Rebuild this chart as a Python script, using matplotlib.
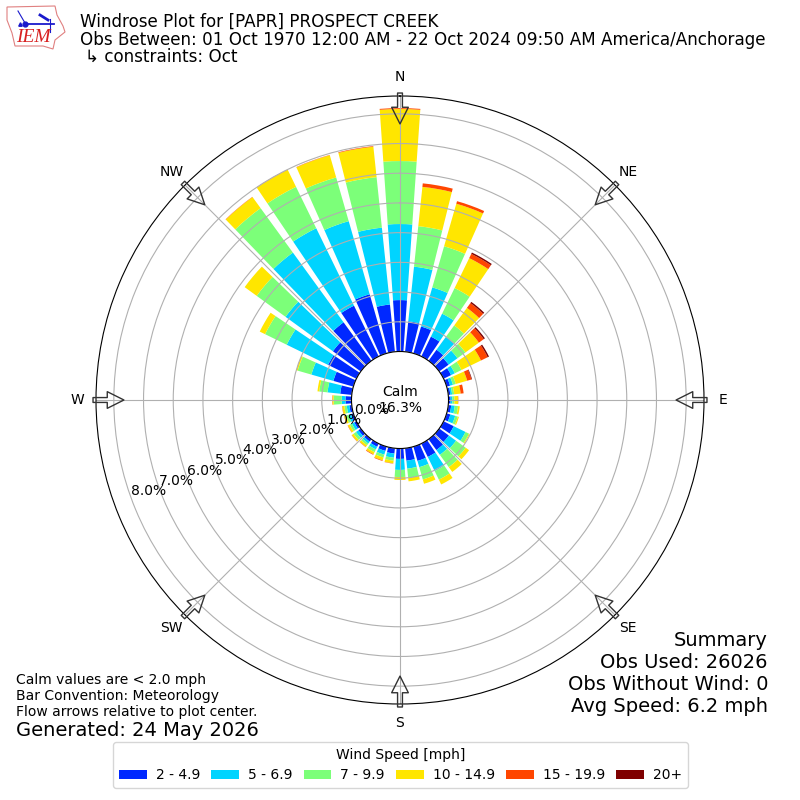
import numpy as np
import matplotlib
matplotlib.use("Agg")
import matplotlib.pyplot as plt
from matplotlib.patches import Polygon

# direction each bar points to, degrees from north
directions = np.arange(0, 360, 10)

speed_labels = ["2 - 4.9", "5 - 6.9", "7 - 9.9", "10 - 14.9", "15 - 19.9", "20+"]
speed_colors = ["#0028ff", "#00d4ff", "#7cff79", "#ffe600", "#ff4600", "#7f0000"]

# percent of obs per direction, one list per speed bin
bin_2_5 = [1.73, 1.03, 0.94, 0.74, 0.46, 0.39, 0.28, 0.12, 0.07, 0.07, 0.10, 0.13,
           0.38, 0.40, 0.45, 0.50, 0.50, 0.42, 0.35, 0.18, 0.15, 0.12, 0.10, 0.10,
           0.08, 0.08, 0.08, 0.20, 0.39, 0.70, 1.06, 1.16, 1.60, 1.90, 2.07, 1.60]
bin_5_7 = [2.56, 1.85, 1.37, 0.86, 0.54, 0.37, 0.14, 0.10, 0.06, 0.06, 0.12, 0.17,
           0.44, 0.30, 0.20, 0.53, 0.22, 0.27, 0.37, 0.14, 0.13, 0.10, 0.08, 0.10,
           0.09, 0.09, 0.09, 0.13, 0.43, 0.77, 1.55, 1.97, 2.90, 2.90, 2.56, 2.60]
bin_7_10 = [2.12, 1.37, 1.44, 0.96, 0.47, 0.33, 0.25, 0.10, 0.07, 0.07, 0.11, 0.09,
            0.13, 0.40, 0.51, 0.32, 0.43, 0.31, 0.24, 0.10, 0.10, 0.10, 0.07, 0.10,
            0.08, 0.08, 0.08, 0.27, 0.28, 0.48, 0.81, 1.20, 1.85, 1.55, 1.53, 1.71]
bin_10_15 = [1.75, 1.33, 1.49, 1.12, 0.73, 0.56, 0.73, 0.40, 0.22, 0.12, 0.06, 0.04,
             0.03, 0.14, 0.20, 0.18, 0.15, 0.12, 0.10, 0.09, 0.10, 0.08, 0.07, 0.07,
             0.07, 0.07, 0.07, 0.04, 0.06, 0.05, 0.20, 0.50, 0.46, 0.64, 0.78, 1.03]
bin_15_20 = [0.03, 0.12, 0.09, 0.16, 0.20, 0.20, 0.25, 0.15, 0.10, 0.01, 0, 0,
             0, 0, 0, 0, 0, 0, 0, 0.01, 0.02, 0.02, 0.01, 0.01,
             0.01, 0.01, 0.01, 0.01, 0, 0, 0, 0, 0.01, 0.01, 0.01, 0.02]
bin_20_up = [0, 0, 0, 0.05, 0.05, 0.05, 0.05, 0.02, 0, 0, 0, 0,
             0, 0, 0, 0, 0, 0, 0, 0, 0, 0, 0, 0,
             0, 0, 0, 0, 0, 0, 0, 0, 0, 0, 0, 0]
speed_bins = [bin_2_5, bin_5_7, bin_7_10, bin_10_15, bin_15_20, bin_20_up]

radial_ticks = [0, 1, 2, 3, 4, 5, 6, 7, 8]
compass_angles = [0, 45, 90, 135, 180, 225, 270, 315]
compass_labels = ["N", "NE", "E", "SE", "S", "SW", "W", "NW"]

fig = plt.figure(figsize=(8, 8), dpi=100)
ax = fig.add_axes([0.12, 0.12, 0.76, 0.76], projection="polar")
ax.set_theta_zero_location("N")
ax.set_theta_direction(-1)

bottom = np.zeros(len(directions))
for values, label, color in zip(speed_bins, speed_labels, speed_colors):
    ax.bar(np.radians(directions), values, width=np.radians(8), bottom=bottom,
           color=color, label=label, linewidth=0)
    bottom += np.array(values)

ax.set_rorigin(-1.633)
ax.set_rlim(0, 8.6)
ax.set_rticks(radial_ticks)
ax.set_yticklabels(["%.1f%%" % r for r in radial_ticks])
ax.set_rlabel_position(250)
ax.set_thetagrids(compass_angles, compass_labels)
ax.tick_params(axis="x", pad=3)

# flow arrows around the rim, see-through like the original
for ang in compass_angles:
    t = np.radians(ang)
    ax.annotate("", xy=(t, 7.66), xytext=(t, 8.7), annotation_clip=False,
                arrowprops=dict(facecolor="none", edgecolor="#333333", linewidth=1,
                                width=3.5, headwidth=12, headlength=12, shrink=0))

fig.text(0.5, 0.5, "Calm\n16.3%", ha="center", va="center", fontsize=10)

fig.text(80 / 800, 1 - 13 / 800, "Windrose Plot for [PAPR] PROSPECT CREEK",
         fontsize=12.05, va="top")
fig.text(80 / 800, 1 - 31 / 800,
         "Obs Between: 01 Oct 1970 12:00 AM - 22 Oct 2024 09:50 AM America/Anchorage",
         fontsize=12.05, va="top")
fig.text(85 / 800, 1 - 48 / 800, "↳ constraints: Oct", fontsize=12.05, va="top")

fig.text(16 / 800, 1 - 680 / 800, "Calm values are < 2.0 mph", fontsize=10, va="center")
fig.text(16 / 800, 1 - 696 / 800, "Bar Convention: Meteorology", fontsize=10, va="center")
fig.text(16 / 800, 1 - 712 / 800, "Flow arrows relative to plot center.", fontsize=10, va="center")
fig.text(16 / 800, 1 - 730 / 800, "Generated: 24 May 2026", fontsize=14, va="center")

summary = ["Summary", "Obs Used: 26026", "Obs Without Wind: 0", "Avg Speed: 6.2 mph"]
for i, line in enumerate(summary):
    fig.text(768 / 800, 1 - (640 + i * 22) / 800, line, fontsize=14, ha="right", va="center")

handles, labels = ax.get_legend_handles_labels()
fig.legend(handles, labels, title="Wind Speed [mph]", ncol=6, loc="center",
           bbox_to_anchor=(400.5 / 800, 1 - 765 / 800), fontsize=10, title_fontsize=10,
           columnspacing=0.8, handletextpad=0.65)

# IEM logo drawn small in the corner, coordinates are logo pixels
logo = fig.add_axes([0, 1 - 52 / 800, 68 / 800, 52 / 800])
logo.set_xlim(0, 68)
logo.set_ylim(52, 0)
logo.axis("off")
outline = [(7, 7), (55, 6), (57, 15), (63, 26), (65, 32), (60, 36), (55, 40), (53, 49),
           (43, 46), (15, 46), (12, 33), (7, 20)]
logo.add_patch(Polygon(outline, closed=True, fill=False, edgecolor="#e08080", linewidth=0.8))
logo.plot([25, 54], [23.5, 23.5], color="#1a1acc", linewidth=1.3)
logo.plot([18, 25], [11, 23], color="#1a1acc", linewidth=0.8)
logo.plot([40, 48], [15, 20], color="#1a1acc", linewidth=2)
logo.plot([50, 50], [19, 32], color="#1a1acc", linewidth=0.8)
logo.plot([25], [23.5], "o", color="#1a1acc", markersize=3.5)
logo.plot([20], [24], "^", color="#1a1acc", markersize=2.5)
logo.text(16, 38, "IEM", color="#d82020", fontsize=14, family="Liberation Serif",
          style="italic", va="center")

fig.savefig("out.png", dpi=100)
